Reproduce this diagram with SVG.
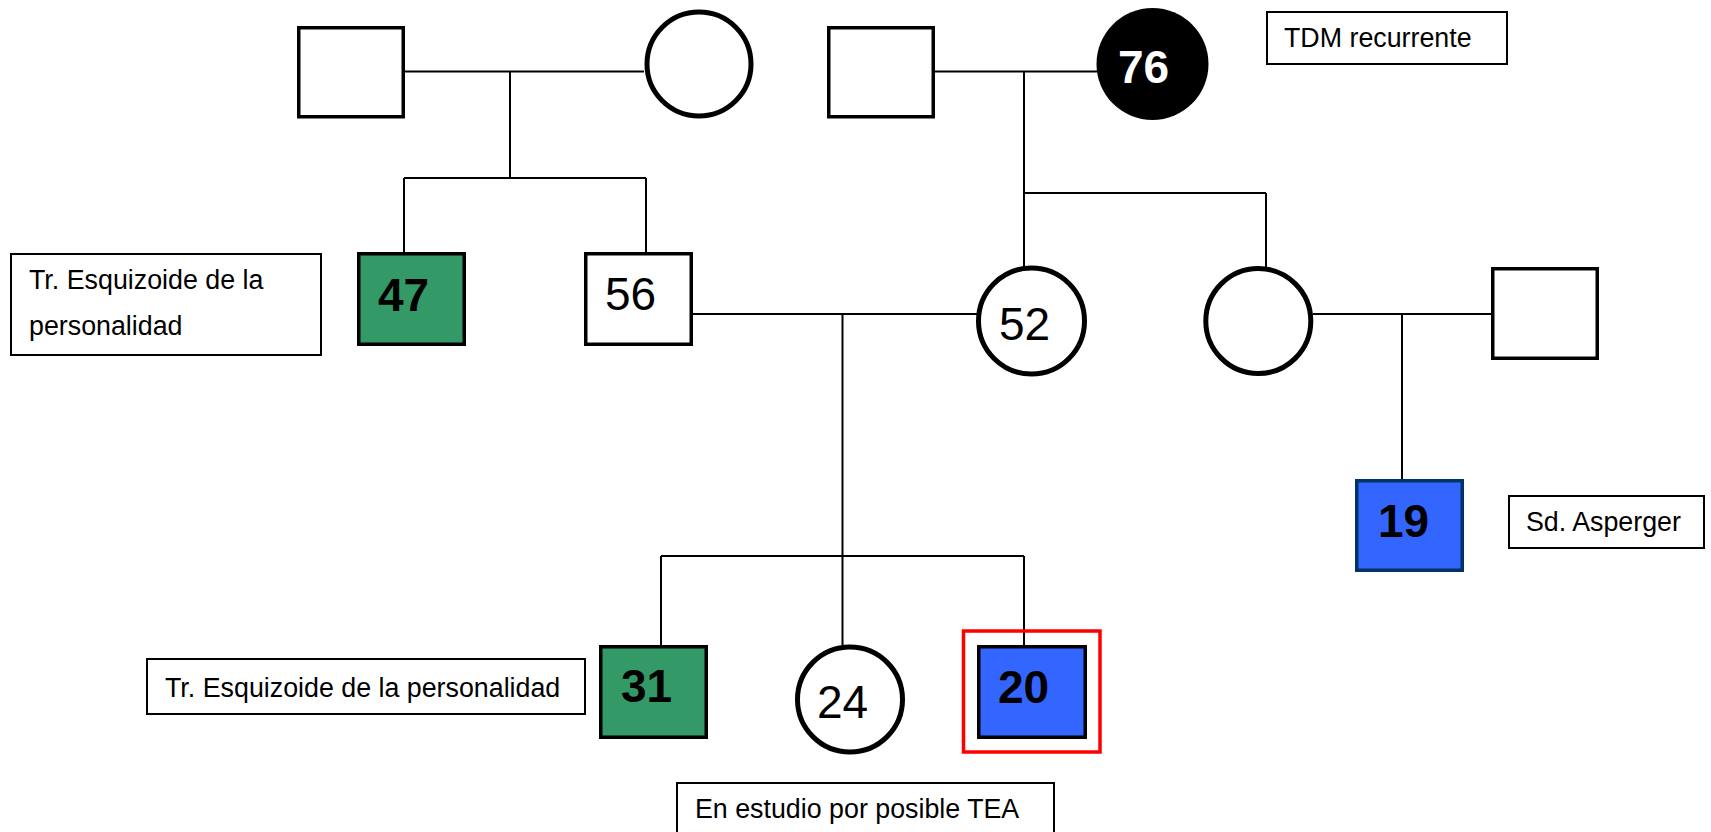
<svg xmlns="http://www.w3.org/2000/svg" width="1711" height="832" viewBox="0 0 1711 832">
<style>
.sq{stroke:#000;stroke-width:3.5;fill:#fff}
.ci{stroke:#000;stroke-width:5;fill:#fff}
.green{fill:#339966}
.blue{fill:#3366ff}
.lbl{fill:#fff;stroke:#000;stroke-width:2}
.t{font-family:"Liberation Sans",Arial,sans-serif;font-size:26.8px;fill:#000}
.n{font-family:"Liberation Sans",Arial,sans-serif;font-size:46px;fill:#000}
.b{font-weight:bold}
.con path{stroke:#000;stroke-width:2;fill:none}
</style>
<rect width="1711" height="832" fill="#fff"/>
<g class="con" id="connectors">
<path d="M405 71.5H644"/>
<path d="M510 71.5V178"/>
<path d="M404 178H646M404 178V252M646 178V252"/>
<path d="M934 71.5H1097"/>
<path d="M1024 71.5V193M1024 193H1266M1024 193V266M1266 193V267"/>
<path d="M693 314H977"/>
<path d="M842.5 314V645"/>
<path d="M661 556H1024M661 556V645M1024 556V645"/>
<path d="M1313 314H1491"/>
<path d="M1402 314V479"/>
</g>
<g id="gp1-male"><rect class="sq" x="298.75" y="27.75" width="104.5" height="89"/></g>
<g id="gp1-female"><circle class="ci" cx="699" cy="64" r="52"/></g>
<g id="gp2-male"><rect class="sq" x="828.75" y="27.75" width="104.5" height="89"/></g>
<g id="gp2-female-76"><circle cx="1152.5" cy="64" r="56" fill="#000"/><text class="n b" x="1118" y="83" style="fill:#fff">76</text></g>
<g id="label-tdm"><rect class="lbl" x="1267" y="12" width="240" height="52"/><text class="t" x="1284" y="46.5">TDM recurrente</text></g>
<g id="label-esq1"><rect class="lbl" x="11" y="254" width="310" height="101"/><text class="t" x="29" y="289">Tr. Esquizoide de la</text><text class="t" x="29" y="335">personalidad</text></g>
<g id="node-47"><rect class="sq green" x="358.75" y="253.75" width="105.5" height="90.5"/><text class="n b" x="378" y="311">47</text></g>
<g id="node-56"><rect class="sq" x="585.75" y="253.75" width="105.5" height="90.5"/><text class="n" x="605" y="310">56</text></g>
<g id="node-52"><circle class="ci" cx="1031.5" cy="321" r="53"/><text class="n" x="999" y="340">52</text></g>
<g id="node-aunt"><circle class="ci" cx="1258.3" cy="321" r="52.5"/></g>
<g id="node-uncle"><rect class="sq" x="1492.75" y="268.75" width="104.5" height="89.5"/></g>
<g id="node-19"><rect class="blue" x="1356.75" y="480.75" width="105.5" height="89.5" stroke="#003366" stroke-width="3.5"/><text class="n b" x="1378" y="537">19</text></g>
<g id="label-asperger"><rect class="lbl" x="1509" y="496" width="195" height="52"/><text class="t" x="1526" y="531">Sd. Asperger</text></g>
<g id="label-esq2"><rect class="lbl" x="147" y="659" width="438" height="55"/><text class="t" x="165" y="697">Tr. Esquizoide de la personalidad</text></g>
<g id="node-31"><rect class="sq green" x="600.75" y="646.75" width="105.5" height="90.5"/><text class="n b" x="621" y="702">31</text></g>
<g id="node-24"><circle class="ci" cx="850" cy="699.5" r="52.5"/><text class="n" x="817" y="718">24</text></g>
<g id="node-20"><rect x="963.5" y="631" width="136.5" height="121" fill="none" stroke="#ff0000" stroke-width="3.5"/><rect class="sq blue" x="978.75" y="646.75" width="106.5" height="90.5"/><text class="n b" x="998" y="703">20</text></g>
<g id="label-tea"><rect class="lbl" x="677" y="783" width="377" height="60"/><text class="t" x="695" y="818">En estudio por posible TEA</text></g>
</svg>
